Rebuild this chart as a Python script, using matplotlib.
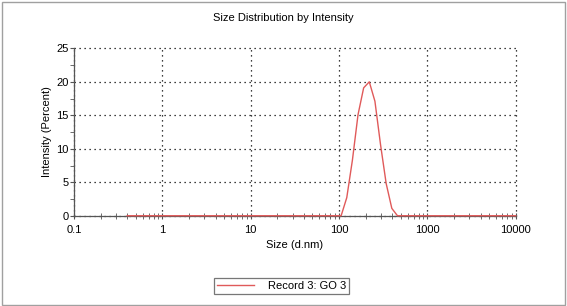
import matplotlib.pyplot as plt
from matplotlib.patches import Rectangle
from matplotlib.ticker import LogLocator, MultipleLocator, FixedLocator

plt.rcParams['font.family'] = ['Liberation Sans', 'DejaVu Sans']

# size bins (d.nm) and intensity (%)
size_nm = [0.4, 91.28, 105.7, 122.4, 141.8, 164.2, 190.1, 220.2,
           255.0, 295.3, 342.0, 396.1, 458.7, 531.2, 10000]
intensity = [0.0, 0.0, 0.0, 2.7, 8.3, 15.1, 19.1, 20.0,
             17.1, 10.6, 4.8, 1.1, 0.0, 0.0, 0.0]
x_ticks = [0.1, 1, 10, 100, 1000, 10000]
x_labels = ['0.1', '1', '10', '100', '1000', '10000']
y_ticks = [0, 5, 10, 15, 20, 25]

fig = plt.figure(figsize=(5.67, 3.06), dpi=100)
ax = fig.add_axes([0.1305, 0.295, 0.779, 0.547])

ax.plot(size_nm, intensity, color='#e05a5a', lw=1.0, label='Record 3: GO 3',
        zorder=3, clip_on=False)

ax.set_xscale('log')
ax.set_xlim(0.1, 10000)
ax.set_ylim(0, 25)
ax.xaxis.set_major_locator(FixedLocator(x_ticks))
ax.set_xticklabels(x_labels)
ax.xaxis.set_minor_locator(LogLocator(base=10, subs=range(2, 10), numticks=20))
ax.xaxis.set_minor_formatter(plt.NullFormatter())
ax.yaxis.set_major_locator(FixedLocator(y_ticks))
ax.yaxis.set_minor_locator(MultipleLocator(2.5))

for s in ['top', 'right']:
    ax.spines[s].set_visible(False)
for s in ['left', 'bottom']:
    ax.spines[s].set_color('#555555')
    ax.spines[s].set_linewidth(0.9)

ax.tick_params(axis='x', which='both', direction='inout', length=5,
               color='#555555', labelsize=8, pad=4)
ax.tick_params(axis='y', which='both', direction='out', length=3,
               color='#555555', labelsize=8, pad=1)
ax.grid(True, which='major', color='black', linestyle=(0, (1, 3)), lw=0.9)
for gl in ax.get_xgridlines() + ax.get_ygridlines():
    gl.set_clip_on(False)

# title is centred on the whole picture, not the axes
fig.text(0.5, 1 - 18 / 306, 'Size Distribution by Intensity', fontsize=8,
         ha='center', va='center')
ax.set_xlabel('Size (d.nm)', fontsize=8, labelpad=4)
ax.set_ylabel('Intensity (Percent)', fontsize=8, labelpad=3)

leg = fig.legend(loc='center', bbox_to_anchor=(0.496, 0.065), fontsize=8,
                 frameon=True, fancybox=False, handlelength=3.4,
                 handletextpad=1.2, borderpad=0.25, borderaxespad=0)
leg.get_frame().set_edgecolor('#555555')
leg.get_frame().set_linewidth(0.9)

# light border round the whole picture
fig.patches.append(Rectangle((0.003, 0.004), 0.994, 0.99, transform=fig.transFigure,
                             fill=False, edgecolor='#a0a0a0', lw=1.0))

fig.savefig('out.png', dpi=100)
